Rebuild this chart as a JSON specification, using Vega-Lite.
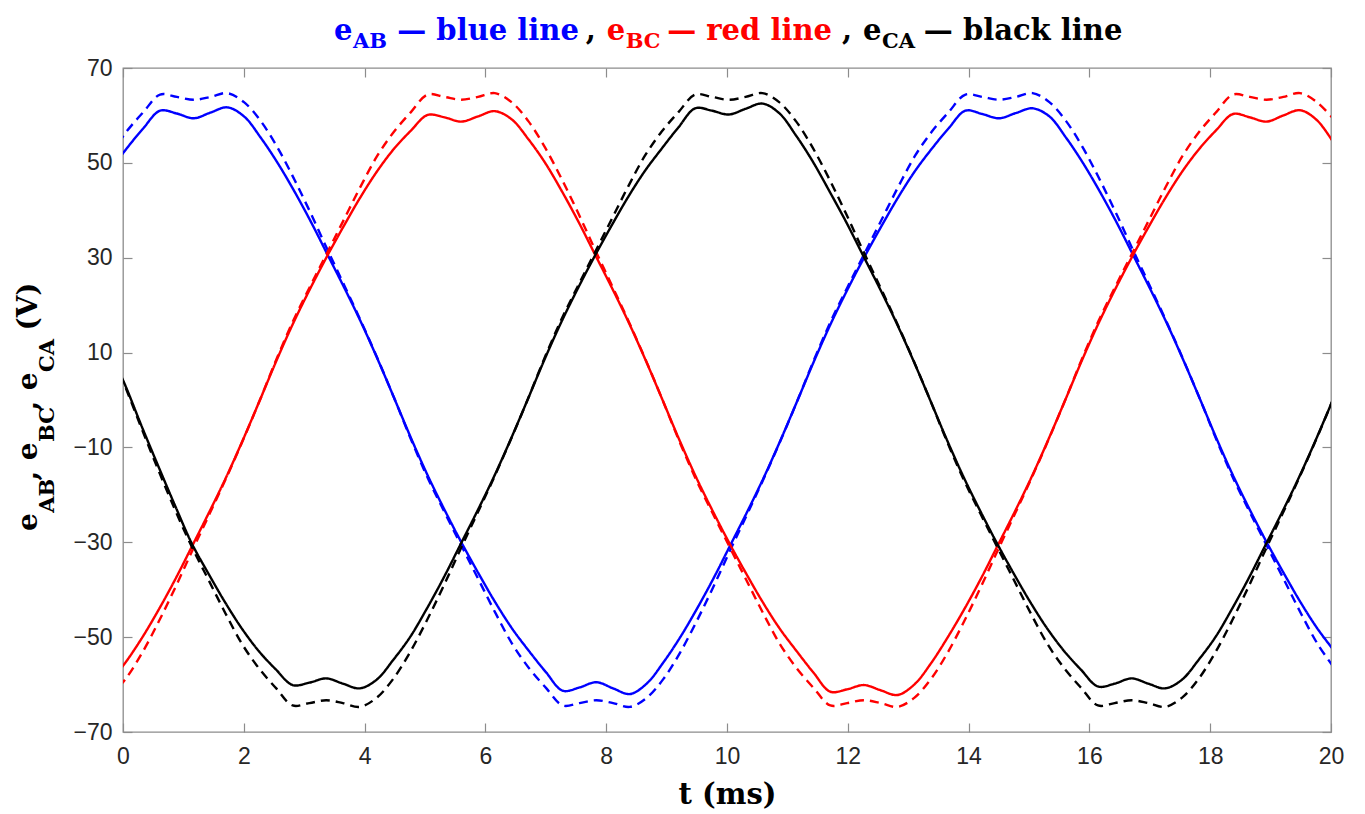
{
  "$schema": "https://vega.github.io/schema/vega-lite/v6.json",
  "width": 1208,
  "height": 664,
  "autosize": {"type": "none"},
  "padding": {"left": 123, "top": 68, "right": 34, "bottom": 82},
  "background": "white",
  "config": {
    "view": {"stroke": "#8c8c8c", "strokeWidth": 1.3},
    "axis": {
      "domain": false,
      "grid": false,
      "tickColor": "#8c8c8c",
      "tickWidth": 1.2,
      "tickSize": -9,
      "labelFont": "Liberation Sans",
      "labelFontSize": 23,
      "labelColor": "#262626",
      "labelFlush": false,
      "labelOverlap": false
    }
  },
  "datasets": {
    "wave": [
      {"p":"AB","t":-0.219,"s":48.3,"d":51.5},{"p":"AB","t":0.059,"s":53.0,"d":56.6},{"p":"AB","t":0.337,"s":57.3,"d":60.7},{"p":"AB","t":0.614,"s":61.0,"d":64.4},{"p":"AB","t":0.892,"s":60.4,"d":63.9},{"p":"AB","t":1.170,"s":59.4,"d":63.3},{"p":"AB","t":1.448,"s":60.6,"d":63.9},{"p":"AB","t":1.726,"s":61.7,"d":64.7},{"p":"AB","t":2.003,"s":59.8,"d":62.8},{"p":"AB","t":2.281,"s":55.3,"d":58.8},{"p":"AB","t":2.559,"s":50.0,"d":53.2},{"p":"AB","t":2.837,"s":44.0,"d":46.5},{"p":"AB","t":3.114,"s":37.5,"d":39.2},{"p":"AB","t":3.392,"s":30.5,"d":31.5},{"p":"AB","t":3.670,"s":23.5,"d":24.0},{"p":"AB","t":3.948,"s":16.2,"d":16.4},{"p":"AB","t":4.226,"s":8.3,"d":8.4},{"p":"AB","t":4.503,"s":0,"d":0},
      {"p":"AB","t":4.781,"s":-8.4,"d":-8.7},{"p":"AB","t":5.059,"s":-16.3,"d":-16.8},{"p":"AB","t":5.337,"s":-23.5,"d":-24.0},{"p":"AB","t":5.614,"s":-30.3,"d":-31.0},{"p":"AB","t":5.892,"s":-36.7,"d":-38.0},{"p":"AB","t":6.170,"s":-42.8,"d":-45.0},{"p":"AB","t":6.448,"s":-48.3,"d":-51.5},{"p":"AB","t":6.726,"s":-53.0,"d":-56.6},{"p":"AB","t":7.003,"s":-57.4,"d":-60.7},{"p":"AB","t":7.281,"s":-61.3,"d":-64.4},{"p":"AB","t":7.559,"s":-60.6,"d":-63.9},{"p":"AB","t":7.837,"s":-59.5,"d":-63.3},{"p":"AB","t":8.114,"s":-60.8,"d":-63.9},{"p":"AB","t":8.392,"s":-62.0,"d":-64.7},{"p":"AB","t":8.670,"s":-59.8,"d":-62.8},{"p":"AB","t":8.948,"s":-55.3,"d":-58.8},{"p":"AB","t":9.226,"s":-50.0,"d":-53.2},{"p":"AB","t":9.503,"s":-44.0,"d":-46.5},{"p":"AB","t":9.781,"s":-37.5,"d":-39.2},{"p":"AB","t":10.059,"s":-30.5,"d":-31.5},{"p":"AB","t":10.337,"s":-23.5,"d":-24.0},{"p":"AB","t":10.614,"s":-16.2,"d":-16.4},{"p":"AB","t":10.892,"s":-8.3,"d":-8.4},{"p":"AB","t":11.170,"s":0,"d":0},
      {"p":"AB","t":11.448,"s":8.4,"d":8.7},{"p":"AB","t":11.726,"s":16.3,"d":16.8},{"p":"AB","t":12.003,"s":23.5,"d":24.0},{"p":"AB","t":12.281,"s":30.3,"d":31.0},{"p":"AB","t":12.559,"s":36.7,"d":38.0},{"p":"AB","t":12.837,"s":42.8,"d":45.0},{"p":"AB","t":13.114,"s":48.3,"d":51.5},{"p":"AB","t":13.392,"s":53.0,"d":56.6},{"p":"AB","t":13.670,"s":57.3,"d":60.7},{"p":"AB","t":13.948,"s":61.0,"d":64.4},{"p":"AB","t":14.226,"s":60.3,"d":63.9},{"p":"AB","t":14.503,"s":59.4,"d":63.3},{"p":"AB","t":14.781,"s":60.5,"d":63.9},{"p":"AB","t":15.059,"s":61.5,"d":64.7},{"p":"AB","t":15.337,"s":59.8,"d":62.8},{"p":"AB","t":15.614,"s":55.3,"d":58.8},{"p":"AB","t":15.892,"s":50.0,"d":53.2},{"p":"AB","t":16.170,"s":44.0,"d":46.5},{"p":"AB","t":16.448,"s":37.5,"d":39.2},{"p":"AB","t":16.726,"s":30.5,"d":31.5},{"p":"AB","t":17.003,"s":23.5,"d":24.0},{"p":"AB","t":17.281,"s":16.2,"d":16.4},{"p":"AB","t":17.559,"s":8.3,"d":8.4},{"p":"AB","t":17.837,"s":0,"d":0},
      {"p":"AB","t":18.114,"s":-8.4,"d":-8.7},{"p":"AB","t":18.392,"s":-16.3,"d":-16.8},{"p":"AB","t":18.670,"s":-23.5,"d":-24.0},{"p":"AB","t":18.948,"s":-30.3,"d":-31.0},{"p":"AB","t":19.226,"s":-36.7,"d":-38.0},{"p":"AB","t":19.503,"s":-42.8,"d":-45.0},{"p":"AB","t":19.781,"s":-48.3,"d":-51.5},{"p":"AB","t":20.059,"s":-53.0,"d":-56.6},

      {"p":"BC","t":-0.233,"s":-59.8,"d":-62.8},{"p":"BC","t":0.044,"s":-55.3,"d":-58.8},{"p":"BC","t":0.322,"s":-50.0,"d":-53.2},{"p":"BC","t":0.600,"s":-44.0,"d":-46.5},{"p":"BC","t":0.878,"s":-37.5,"d":-39.2},{"p":"BC","t":1.156,"s":-30.5,"d":-31.5},{"p":"BC","t":1.433,"s":-23.5,"d":-24.0},{"p":"BC","t":1.711,"s":-16.2,"d":-16.4},{"p":"BC","t":1.989,"s":-8.3,"d":-8.4},{"p":"BC","t":2.267,"s":0,"d":0},
      {"p":"BC","t":2.544,"s":8.4,"d":8.7},{"p":"BC","t":2.822,"s":16.3,"d":16.8},{"p":"BC","t":3.100,"s":23.5,"d":24.0},{"p":"BC","t":3.378,"s":30.3,"d":31.0},{"p":"BC","t":3.656,"s":36.7,"d":38.0},{"p":"BC","t":3.933,"s":42.8,"d":45.0},{"p":"BC","t":4.211,"s":48.3,"d":51.5},{"p":"BC","t":4.489,"s":53.0,"d":56.6},{"p":"BC","t":4.767,"s":56.8,"d":60.7},{"p":"BC","t":5.044,"s":60.1,"d":64.4},{"p":"BC","t":5.322,"s":59.6,"d":63.9},{"p":"BC","t":5.600,"s":58.7,"d":63.3},{"p":"BC","t":5.878,"s":59.8,"d":63.9},{"p":"BC","t":6.156,"s":60.9,"d":64.7},{"p":"BC","t":6.433,"s":59.2,"d":62.8},{"p":"BC","t":6.711,"s":55.0,"d":58.8},{"p":"BC","t":6.989,"s":50.0,"d":53.2},{"p":"BC","t":7.267,"s":44.0,"d":46.5},{"p":"BC","t":7.544,"s":37.5,"d":39.2},{"p":"BC","t":7.822,"s":30.5,"d":31.5},{"p":"BC","t":8.100,"s":23.5,"d":24.0},{"p":"BC","t":8.378,"s":16.2,"d":16.4},{"p":"BC","t":8.656,"s":8.3,"d":8.4},{"p":"BC","t":8.933,"s":0,"d":0},
      {"p":"BC","t":9.211,"s":-8.4,"d":-8.7},{"p":"BC","t":9.489,"s":-16.3,"d":-16.8},{"p":"BC","t":9.767,"s":-23.5,"d":-24.0},{"p":"BC","t":10.044,"s":-30.3,"d":-31.0},{"p":"BC","t":10.322,"s":-36.7,"d":-38.0},{"p":"BC","t":10.600,"s":-42.8,"d":-45.0},{"p":"BC","t":10.878,"s":-48.3,"d":-51.5},{"p":"BC","t":11.156,"s":-53.0,"d":-56.6},{"p":"BC","t":11.433,"s":-57.5,"d":-60.7},{"p":"BC","t":11.711,"s":-61.5,"d":-64.4},{"p":"BC","t":11.989,"s":-61.0,"d":-63.9},{"p":"BC","t":12.267,"s":-60.1,"d":-63.3},{"p":"BC","t":12.544,"s":-61.2,"d":-63.9},{"p":"BC","t":12.822,"s":-62.2,"d":-64.7},{"p":"BC","t":13.100,"s":-60.0,"d":-62.8},{"p":"BC","t":13.378,"s":-55.5,"d":-58.8},{"p":"BC","t":13.656,"s":-50.0,"d":-53.2},{"p":"BC","t":13.933,"s":-44.0,"d":-46.5},{"p":"BC","t":14.211,"s":-37.5,"d":-39.2},{"p":"BC","t":14.489,"s":-30.5,"d":-31.5},{"p":"BC","t":14.767,"s":-23.5,"d":-24.0},{"p":"BC","t":15.044,"s":-16.2,"d":-16.4},{"p":"BC","t":15.322,"s":-8.3,"d":-8.4},{"p":"BC","t":15.600,"s":0,"d":0},
      {"p":"BC","t":15.878,"s":8.4,"d":8.7},{"p":"BC","t":16.156,"s":16.3,"d":16.8},{"p":"BC","t":16.433,"s":23.5,"d":24.0},{"p":"BC","t":16.711,"s":30.3,"d":31.0},{"p":"BC","t":16.989,"s":36.7,"d":38.0},{"p":"BC","t":17.267,"s":42.8,"d":45.0},{"p":"BC","t":17.544,"s":48.3,"d":51.5},{"p":"BC","t":17.822,"s":53.0,"d":56.6},{"p":"BC","t":18.100,"s":56.9,"d":60.7},{"p":"BC","t":18.378,"s":60.3,"d":64.4},{"p":"BC","t":18.656,"s":59.6,"d":63.9},{"p":"BC","t":18.933,"s":58.7,"d":63.3},{"p":"BC","t":19.211,"s":60.0,"d":63.9},{"p":"BC","t":19.489,"s":61.1,"d":64.7},{"p":"BC","t":19.767,"s":59.0,"d":62.8},{"p":"BC","t":20.044,"s":54.2,"d":59.2},

      {"p":"CA","t":-0.248,"s":11.0,"d":11.2},{"p":"CA","t":0.030,"s":3.3,"d":3.0},
      {"p":"CA","t":0.308,"s":-5.5,"d":-6.0},{"p":"CA","t":0.586,"s":-14.0,"d":-14.8},{"p":"CA","t":0.863,"s":-22.3,"d":-23.2},{"p":"CA","t":1.141,"s":-30.3,"d":-31.0},{"p":"CA","t":1.419,"s":-36.7,"d":-38.0},{"p":"CA","t":1.697,"s":-42.8,"d":-45.0},{"p":"CA","t":1.974,"s":-48.3,"d":-51.5},{"p":"CA","t":2.252,"s":-53.0,"d":-56.6},{"p":"CA","t":2.530,"s":-56.8,"d":-60.7},{"p":"CA","t":2.808,"s":-60.1,"d":-64.4},{"p":"CA","t":3.086,"s":-59.6,"d":-63.9},{"p":"CA","t":3.363,"s":-58.7,"d":-63.3},{"p":"CA","t":3.641,"s":-59.8,"d":-63.9},{"p":"CA","t":3.919,"s":-60.8,"d":-64.7},{"p":"CA","t":4.197,"s":-59.0,"d":-62.8},{"p":"CA","t":4.474,"s":-54.8,"d":-58.8},{"p":"CA","t":4.752,"s":-50.0,"d":-53.2},{"p":"CA","t":5.030,"s":-44.0,"d":-46.5},{"p":"CA","t":5.308,"s":-37.5,"d":-39.2},{"p":"CA","t":5.586,"s":-30.5,"d":-31.5},{"p":"CA","t":5.863,"s":-23.5,"d":-24.0},{"p":"CA","t":6.141,"s":-16.2,"d":-16.4},{"p":"CA","t":6.419,"s":-8.3,"d":-8.4},{"p":"CA","t":6.697,"s":0,"d":0},
      {"p":"CA","t":6.974,"s":8.4,"d":8.7},{"p":"CA","t":7.252,"s":16.3,"d":16.8},{"p":"CA","t":7.530,"s":23.5,"d":24.0},{"p":"CA","t":7.808,"s":30.3,"d":31.0},{"p":"CA","t":8.086,"s":36.7,"d":38.0},{"p":"CA","t":8.363,"s":42.8,"d":45.0},{"p":"CA","t":8.641,"s":48.3,"d":51.5},{"p":"CA","t":8.919,"s":53.0,"d":56.6},{"p":"CA","t":9.197,"s":57.5,"d":60.7},{"p":"CA","t":9.474,"s":61.5,"d":64.4},{"p":"CA","t":9.752,"s":61.0,"d":63.9},{"p":"CA","t":10.030,"s":60.2,"d":63.3},{"p":"CA","t":10.308,"s":61.4,"d":63.9},{"p":"CA","t":10.586,"s":62.5,"d":64.7},{"p":"CA","t":10.863,"s":60.5,"d":62.8},{"p":"CA","t":11.141,"s":55.8,"d":58.8},{"p":"CA","t":11.419,"s":50.3,"d":53.2},{"p":"CA","t":11.697,"s":44.0,"d":46.5},{"p":"CA","t":11.974,"s":37.5,"d":39.2},{"p":"CA","t":12.252,"s":30.5,"d":31.5},{"p":"CA","t":12.530,"s":23.5,"d":24.0},{"p":"CA","t":12.808,"s":16.2,"d":16.4},{"p":"CA","t":13.086,"s":8.3,"d":8.4},{"p":"CA","t":13.363,"s":0,"d":0},
      {"p":"CA","t":13.641,"s":-8.4,"d":-8.7},{"p":"CA","t":13.919,"s":-16.3,"d":-16.8},{"p":"CA","t":14.197,"s":-23.5,"d":-24.0},{"p":"CA","t":14.474,"s":-30.3,"d":-31.0},{"p":"CA","t":14.752,"s":-36.7,"d":-38.0},{"p":"CA","t":15.030,"s":-42.8,"d":-45.0},{"p":"CA","t":15.308,"s":-48.3,"d":-51.5},{"p":"CA","t":15.586,"s":-53.0,"d":-56.6},{"p":"CA","t":15.863,"s":-56.9,"d":-60.7},{"p":"CA","t":16.141,"s":-60.4,"d":-64.4},{"p":"CA","t":16.419,"s":-59.8,"d":-63.9},{"p":"CA","t":16.697,"s":-58.7,"d":-63.3},{"p":"CA","t":16.974,"s":-59.8,"d":-63.9},{"p":"CA","t":17.252,"s":-60.8,"d":-64.7},{"p":"CA","t":17.530,"s":-59.0,"d":-62.8},{"p":"CA","t":17.808,"s":-54.8,"d":-58.8},{"p":"CA","t":18.086,"s":-50.0,"d":-53.2},{"p":"CA","t":18.363,"s":-44.0,"d":-46.5},{"p":"CA","t":18.641,"s":-37.5,"d":-39.2},{"p":"CA","t":18.919,"s":-30.5,"d":-31.5},{"p":"CA","t":19.197,"s":-23.5,"d":-24.0},{"p":"CA","t":19.474,"s":-16.2,"d":-16.4},{"p":"CA","t":19.752,"s":-8.3,"d":-8.4},{"p":"CA","t":20.030,"s":0,"d":0}
    ]
  },
  "layer": [
    {
      "data": {"name": "wave"},
      "transform": [{"fold": ["s", "d"], "as": ["k", "v"]}],
      "mark": {"type": "line", "clip": true, "strokeWidth": 2.4, "interpolate": "catmull-rom"},
      "encoding": {
        "x": {"field": "t", "type": "quantitative", "scale": {"domain": [0, 20], "nice": false},
              "axis": {"orient": "bottom", "values": [0,2,4,6,8,10,12,14,16,18,20], "format": "d", "labelPadding": 22,
                       "title": "t (ms)", "titleFont": "DejaVu Serif", "titleFontWeight": "bold", "titleFontSize": 29, "titleColor": "#000000", "titlePadding": 12}},
        "y": {"field": "v", "type": "quantitative", "scale": {"domain": [-70, 70], "nice": false},
              "axis": {"orient": "left", "values": [-70,-50,-30,-10,10,30,50,70], "format": "d", "labelPadding": 20, "title": null}},
        "color": {"field": "p", "type": "nominal", "scale": {"domain": ["AB","BC","CA"], "range": ["#0000ff","#ff0000","#000000"]}, "legend": null},
        "strokeDash": {"field": "k", "type": "nominal", "scale": {"domain": ["s","d"], "range": [[1,0],[9,6]]}, "legend": null}
      }
    },
    {
      "data": {"values": [{}]},
      "mark": {"type": "text", "text": "e", "font": "DejaVu Serif", "fontWeight": "bold", "fontSize": 29, "color": "#0000ff", "align": "left", "baseline": "alphabetic"},
      "encoding": {
        "x": {"datum": 3.493, "type": "quantitative", "axis": {"orient": "top", "values": [0,2,4,6,8,10,12,14,16,18,20], "labels": false, "title": null}},
        "y": {"datum": 75.9, "type": "quantitative", "axis": {"orient": "right", "values": [-70,-50,-30,-10,10,30,50,70], "labels": false, "title": null}}
      }
    },
    {"data": {"values": [{}]}, "mark": {"type": "text", "text": "AB", "font": "DejaVu Serif", "fontWeight": "bold", "fontSize": 21, "color": "#0000ff", "align": "left", "baseline": "alphabetic"},
     "encoding": {"x": {"datum": 3.806, "type": "quantitative", "axis": null}, "y": {"datum": 74.2, "type": "quantitative", "axis": null}}},
    {"data": {"values": [{}]}, "mark": {"type": "text", "text": "— blue line", "font": "DejaVu Serif", "fontWeight": "bold", "fontSize": 29, "color": "#0000ff", "align": "left", "baseline": "alphabetic"},
     "encoding": {"x": {"datum": 4.541, "type": "quantitative", "axis": null}, "y": {"datum": 75.9, "type": "quantitative", "axis": null}}},
    {"data": {"values": [{}]}, "mark": {"type": "text", "text": ",", "font": "DejaVu Serif", "fontWeight": "bold", "fontSize": 29, "color": "#000000", "align": "left", "baseline": "alphabetic"},
     "encoding": {"x": {"datum": 7.661, "type": "quantitative", "axis": null}, "y": {"datum": 75.9, "type": "quantitative", "axis": null}}},
    {"data": {"values": [{}]}, "mark": {"type": "text", "text": "e", "font": "DejaVu Serif", "fontWeight": "bold", "fontSize": 29, "color": "#ff0000", "align": "left", "baseline": "alphabetic"},
     "encoding": {"x": {"datum": 8.010, "type": "quantitative", "axis": null}, "y": {"datum": 75.9, "type": "quantitative", "axis": null}}},
    {"data": {"values": [{}]}, "mark": {"type": "text", "text": "BC", "font": "DejaVu Serif", "fontWeight": "bold", "fontSize": 21, "color": "#ff0000", "align": "left", "baseline": "alphabetic"},
     "encoding": {"x": {"datum": 8.323, "type": "quantitative", "axis": null}, "y": {"datum": 74.2, "type": "quantitative", "axis": null}}},
    {"data": {"values": [{}]}, "mark": {"type": "text", "text": "— red line", "font": "DejaVu Serif", "fontWeight": "bold", "fontSize": 29, "color": "#ff0000", "align": "left", "baseline": "alphabetic"},
     "encoding": {"x": {"datum": 9.010, "type": "quantitative", "axis": null}, "y": {"datum": 75.9, "type": "quantitative", "axis": null}}},
    {"data": {"values": [{}]}, "mark": {"type": "text", "text": ",", "font": "DejaVu Serif", "fontWeight": "bold", "fontSize": 29, "color": "#000000", "align": "left", "baseline": "alphabetic"},
     "encoding": {"x": {"datum": 11.904, "type": "quantitative", "axis": null}, "y": {"datum": 75.9, "type": "quantitative", "axis": null}}},
    {"data": {"values": [{}]}, "mark": {"type": "text", "text": "e", "font": "DejaVu Serif", "fontWeight": "bold", "fontSize": 29, "color": "#000000", "align": "left", "baseline": "alphabetic"},
     "encoding": {"x": {"datum": 12.253, "type": "quantitative", "axis": null}, "y": {"datum": 75.9, "type": "quantitative", "axis": null}}},
    {"data": {"values": [{}]}, "mark": {"type": "text", "text": "CA", "font": "DejaVu Serif", "fontWeight": "bold", "fontSize": 21, "color": "#000000", "align": "left", "baseline": "alphabetic"},
     "encoding": {"x": {"datum": 12.566, "type": "quantitative", "axis": null}, "y": {"datum": 74.2, "type": "quantitative", "axis": null}}},
    {"data": {"values": [{}]}, "mark": {"type": "text", "text": "— black line", "font": "DejaVu Serif", "fontWeight": "bold", "fontSize": 29, "color": "#000000", "align": "left", "baseline": "alphabetic"},
     "encoding": {"x": {"datum": 13.258, "type": "quantitative", "axis": null}, "y": {"datum": 75.9, "type": "quantitative", "axis": null}}},

    {"data": {"values": [{}]}, "mark": {"type": "text", "text": "e", "angle": 270, "font": "DejaVu Serif", "fontWeight": "bold", "fontSize": 28, "color": "#000000", "align": "left", "baseline": "alphabetic"},
     "encoding": {"x": {"datum": -1.424, "type": "quantitative", "axis": null}, "y": {"datum": -27.6, "type": "quantitative", "axis": null}}},
    {"data": {"values": [{}]}, "mark": {"type": "text", "text": "AB", "angle": 270, "font": "DejaVu Serif", "fontWeight": "bold", "fontSize": 21, "color": "#000000", "align": "left", "baseline": "alphabetic"},
     "encoding": {"x": {"datum": -1.142, "type": "quantitative", "axis": null}, "y": {"datum": -23.77, "type": "quantitative", "axis": null}}},
    {"data": {"values": [{}]}, "mark": {"type": "text", "text": ",", "angle": 270, "font": "DejaVu Serif", "fontWeight": "bold", "fontSize": 28, "color": "#000000", "align": "left", "baseline": "alphabetic"},
     "encoding": {"x": {"datum": -1.424, "type": "quantitative", "axis": null}, "y": {"datum": -16.96, "type": "quantitative", "axis": null}}},
    {"data": {"values": [{}]}, "mark": {"type": "text", "text": "e", "angle": 270, "font": "DejaVu Serif", "fontWeight": "bold", "fontSize": 28, "color": "#000000", "align": "left", "baseline": "alphabetic"},
     "encoding": {"x": {"datum": -1.424, "type": "quantitative", "axis": null}, "y": {"datum": -12.68, "type": "quantitative", "axis": null}}},
    {"data": {"values": [{}]}, "mark": {"type": "text", "text": "BC", "angle": 270, "font": "DejaVu Serif", "fontWeight": "bold", "fontSize": 21, "color": "#000000", "align": "left", "baseline": "alphabetic"},
     "encoding": {"x": {"datum": -1.142, "type": "quantitative", "axis": null}, "y": {"datum": -8.84, "type": "quantitative", "axis": null}}},
    {"data": {"values": [{}]}, "mark": {"type": "text", "text": ",", "angle": 270, "font": "DejaVu Serif", "fontWeight": "bold", "fontSize": 28, "color": "#000000", "align": "left", "baseline": "alphabetic"},
     "encoding": {"x": {"datum": -1.424, "type": "quantitative", "axis": null}, "y": {"datum": -2.22, "type": "quantitative", "axis": null}}},
    {"data": {"values": [{}]}, "mark": {"type": "text", "text": "e", "angle": 270, "font": "DejaVu Serif", "fontWeight": "bold", "fontSize": 28, "color": "#000000", "align": "left", "baseline": "alphabetic"},
     "encoding": {"x": {"datum": -1.424, "type": "quantitative", "axis": null}, "y": {"datum": 2.06, "type": "quantitative", "axis": null}}},
    {"data": {"values": [{}]}, "mark": {"type": "text", "text": "CA", "angle": 270, "font": "DejaVu Serif", "fontWeight": "bold", "fontSize": 21, "color": "#000000", "align": "left", "baseline": "alphabetic"},
     "encoding": {"x": {"datum": -1.142, "type": "quantitative", "axis": null}, "y": {"datum": 5.90, "type": "quantitative", "axis": null}}},
    {"data": {"values": [{}]}, "mark": {"type": "text", "text": "(V)", "angle": 270, "font": "DejaVu Serif", "fontWeight": "bold", "fontSize": 28, "color": "#000000", "align": "left", "baseline": "alphabetic"},
     "encoding": {"x": {"datum": -1.424, "type": "quantitative", "axis": null}, "y": {"datum": 14.63, "type": "quantitative", "axis": null}}}
  ]
}
